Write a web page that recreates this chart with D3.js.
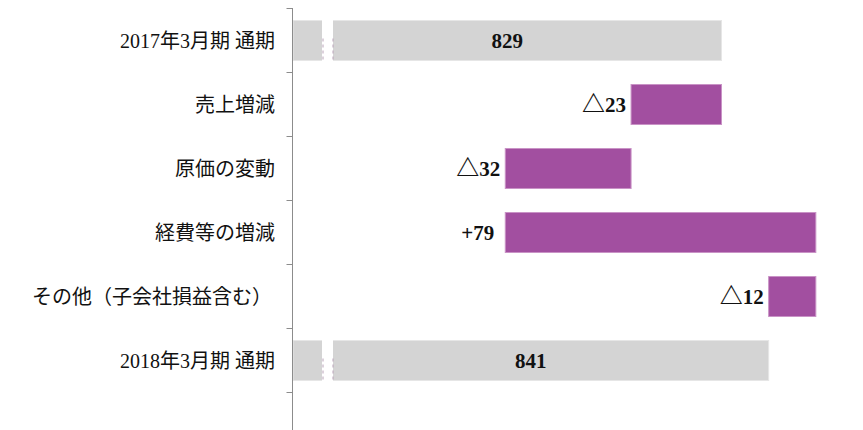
<!DOCTYPE html>
<html><head><meta charset="utf-8">
<script src="https://cdn.jsdelivr.net/npm/d3@7"></script>
<style>body{margin:0;background:#fff}svg{display:block}</style>
</head><body>
<script>
const categories = ["2017年3月期 通期","売上増減","原価の変動","経費等の増減","その他（子会社損益含む）","2018年3月期 通期"];
const values = [829, -23, -32, 79, -12, 841];
const kinds = ["total","delta","delta","delta","delta","total"];
const xDomain = [720, 865];

const W = 863, H = 430;
const svg = d3.select("body").append("svg").attr("width", W).attr("height", H);

const x = d3.scaleLinear().domain(xDomain).range([293, 863]);
const y = d3.scaleBand().domain(categories).range([8.5, 392.5]).paddingInner(0.375).paddingOuter(0.1875);

// compute waterfall
let run = 0;
const rows = categories.map((c, i) => {
  let a, b;
  if (kinds[i] === "total") { a = xDomain[0]; b = values[i]; run = values[i]; }
  else { a = run; b = run + values[i]; run = b; }
  return {c, v: values[i], kind: kinds[i], lo: Math.min(a, b), hi: Math.max(a, b)};
});

// bars
svg.selectAll("rect.bar").data(rows).join("rect")
  .attr("class","bar")
  .attr("x", d => d.kind === "total" ? x.range()[0] : x(d.lo))
  .attr("y", d => y(d.c))
  .attr("width", d => x(d.hi) - (d.kind === "total" ? x.range()[0] : x(d.lo)))
  .attr("height", y.bandwidth())
  .attr("fill", d => d.kind === "total" ? "#d4d4d4" : "#a24fa0")
  .attr("stroke", d => d.kind === "total" ? "#e6e6e6" : "#c993c6")
  .attr("stroke-width", 1);

// axis break on total bars
const totals = rows.filter(d => d.kind === "total");
const brk = svg.selectAll("g.brk").data(totals).join("g").attr("class","brk");
brk.append("rect")
  .attr("x", 322).attr("y", d => y(d.c) - 1)
  .attr("width", 11).attr("height", y.bandwidth() + 2)
  .attr("fill", "#fff");
[323, 333].forEach(px => {
  brk.append("line")
    .attr("x1", px).attr("x2", px)
    .attr("y1", d => y(d.c) + y.bandwidth() * 0.45)
    .attr("y2", d => y(d.c) + y.bandwidth())
    .attr("stroke", "#b9a3b8").attr("stroke-width", 1)
    .attr("stroke-dasharray", "3,3");
});

// y axis
const ag = svg.append("g").attr("transform", "translate(292.5,0)");
ag.append("line").attr("x1",0).attr("x2",0).attr("y1",8).attr("y2",H).attr("stroke","#8c8c8c");
const bounds = categories.map(c => y(c) - y.step()*y.paddingInner()/2).concat([y(categories[categories.length-1]) + y.bandwidth() + y.step()*y.paddingInner()/2]);
ag.selectAll("line.tk").data(bounds).join("line").attr("class","tk")
  .attr("x1",-6).attr("x2",0).attr("y1",d=>Math.floor(d)+0.5).attr("y2",d=>Math.floor(d)+0.5)
  .attr("stroke","#8c8c8c");

// category labels
svg.selectAll("text.cat").data(rows).join("text").attr("class","cat")
  .attr("x", d => d.c.endsWith("）") ? 272 : 275).attr("y", d => y(d.c) + y.bandwidth()/2)
  .attr("dy", "0.36em").attr("text-anchor","end")
  .style("font-family", "'Liberation Serif','Noto Sans CJK JP',serif")
  .style("font-size", "20px").attr("fill", "#111")
  .text(d => d.c);

// value labels
const vt = svg.selectAll("text.val").data(rows).join("text").attr("class","val")
  .attr("x", d => d.kind === "total" ? (x.range()[0] + x(d.hi))/2 : x(d.lo) - (d.v > 0 ? 11 : 5))
  .attr("y", d => y(d.c) + y.bandwidth()/2)
  .attr("dy", "0.36em")
  .attr("text-anchor", d => d.kind === "total" ? "middle" : "end")
  .style("font-family", "'Liberation Serif','DejaVu Serif',serif")
  .style("font-size", "21px").style("font-weight", "bold").attr("fill", "#111");
vt.filter(d => d.kind === "delta" && d.v < 0).append("tspan")
  .style("font-family", "'Noto Sans CJK JP',sans-serif").style("font-weight", "bold")
  .style("font-size", "23px").text("△");
vt.append("tspan").text(d => d.kind === "total" ? d.v : (d.v < 0 ? Math.abs(d.v) : "+" + d.v));
</script>
</body></html>
